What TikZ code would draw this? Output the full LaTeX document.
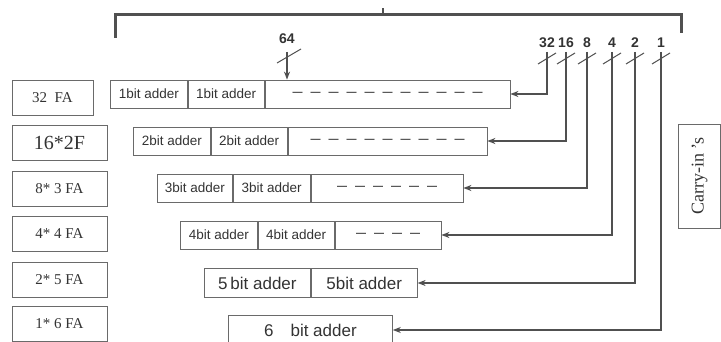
\documentclass[tikz,border=0pt]{standalone}
\usepackage{fontspec}
\setmainfont{Liberation Serif}
\setsansfont{Liberation Sans}
\usepackage{tikz}
\usetikzlibrary{arrows.meta,positioning}
\definecolor{cInk}{HTML}{333333}
\definecolor{cEdge}{HTML}{6A6A6A}
\definecolor{cWire}{HTML}{505050}
\newcommand{\dashfont}{\sffamily\bfseries\fontsize{10}{10}\selectfont\spaceskip=8pt\relax}
\tikzset{
  fabox/.style={draw=cEdge,line width=0.9pt,minimum width=95pt,minimum height=35pt,inner sep=0pt,text=cInk,font=\fontsize{15}{15}\selectfont},
  cell/.style={draw=cEdge,line width=0.8pt,minimum width=#1,minimum height=28pt,inner sep=0pt,text=cInk,font=\sffamily\fontsize{13.5}{13.5}\selectfont,anchor=west},
  cell/.default=77pt,
  bigcell/.style={cell=#1,minimum height=29pt,font=\sffamily\fontsize{17}{17}\selectfont},
  dots/.style={cell=#1,font=\dashfont},
  wire/.style={-{Stealth[length=8pt,width=6pt]},draw=cWire,line width=2.6pt},
  bracket/.style={draw=cWire,line width=3pt},
  slash/.style={draw=cWire,line width=1pt},
  num/.style={font=\sffamily\bfseries\fontsize{14}{14}\selectfont,text=cInk,inner sep=1pt,anchor=south},
}

\begin{document}
\begin{tikzpicture}[x=1pt,y=-1pt]
  \useasboundingbox (0,0) rectangle (721,342);
  \node[fabox,minimum width=81pt] (fa1) at (52.5,97.5) {32\ \ FA};
  \node[fabox,font=\fontsize{20}{20}\selectfont] (fa2) at (59.5,143) {16*2F};
  \node[fabox] (fa3) at (59.5,188.5) {8* 3 FA};
  \node[fabox] (fa4) at (59.5,234) {4* 4 FA};
  \node[fabox] (fa5) at (59.5,279.5) {2* 5 FA};
  \node[fabox] (fa6) at (59.5,324) {1* 6 FA};

  \node[cell] (a1) at (110,94) {1bit adder};
  \node[cell=76pt,right=0pt of a1] (b1) {1bit adder};
  \node[dots=245pt,right=0pt of b1] (d1) {--- --- --- --- --- --- --- --- --- --- ---};
  \node[cell] (a2) at (133,141) {2bit adder};
  \node[cell=76pt,right=0pt of a2] (b2) {2bit adder};
  \node[dots=199pt,right=0pt of b2] (d2) {--- --- --- --- --- --- --- --- ---};
  \node[cell=75pt] (a3) at (157,188) {3bit adder};
  \node[cell=77pt,right=0pt of a3] (b3) {3bit adder};
  \node[dots=152pt,right=0pt of b3] (d3) {--- --- --- --- --- ---};
  \node[cell] (a4) at (180,235) {4bit adder};
  \node[cell=76pt,right=0pt of a4] (b4) {4bit adder};
  \node[dots=106pt,right=0pt of b4] (d4) {--- --- --- ---};
  \node[bigcell=106pt] (a5) at (204,283) {5\,bit adder};
  \node[bigcell=106pt,right=0pt of a5] (b5) {5bit adder};
  \node[bigcell=164pt] (a6) at (228,330) {6\quad bit adder};

  \node[fabox,rotate=90,minimum width=104pt,minimum height=42pt,font=\fontsize{18}{18}\selectfont] (cin) at (699.5,176) {Carry-in 's};

  \draw[bracket] (115,38) |- (681,15) -- (681,33);
  \draw[bracket,line width=2pt] (383,15) -- (383,8);

  \coordinate (k64) at (287,52);
  \coordinate (k32) at (547,52);
  \coordinate (k16) at (566,52);
  \coordinate (k8) at (587,52);
  \coordinate (k4) at (612,52);
  \coordinate (k2) at (635,52);
  \coordinate (k1) at (661,52);

  \draw[wire,line width=1.8pt] (k64) -- (k64 |- d1.north);
  \draw[slash] ([shift={(-10,11)}]k64) -- ([shift={(14,-3)}]k64);
  \node[num,above=7pt of k64] (n64) {64};
  \foreach \k/\t in {32/d1,16/d2,8/d3,4/d4,2/b5,1/a6}{
    \draw[wire] (k\k) |- (\t.east);
    \draw[slash] ([shift={(-9,12)}]k\k) -- ([shift={(9,1)}]k\k);
    \node[num,above=3pt of k\k] (n\k) {\k};
  }
\end{tikzpicture}
\end{document}
